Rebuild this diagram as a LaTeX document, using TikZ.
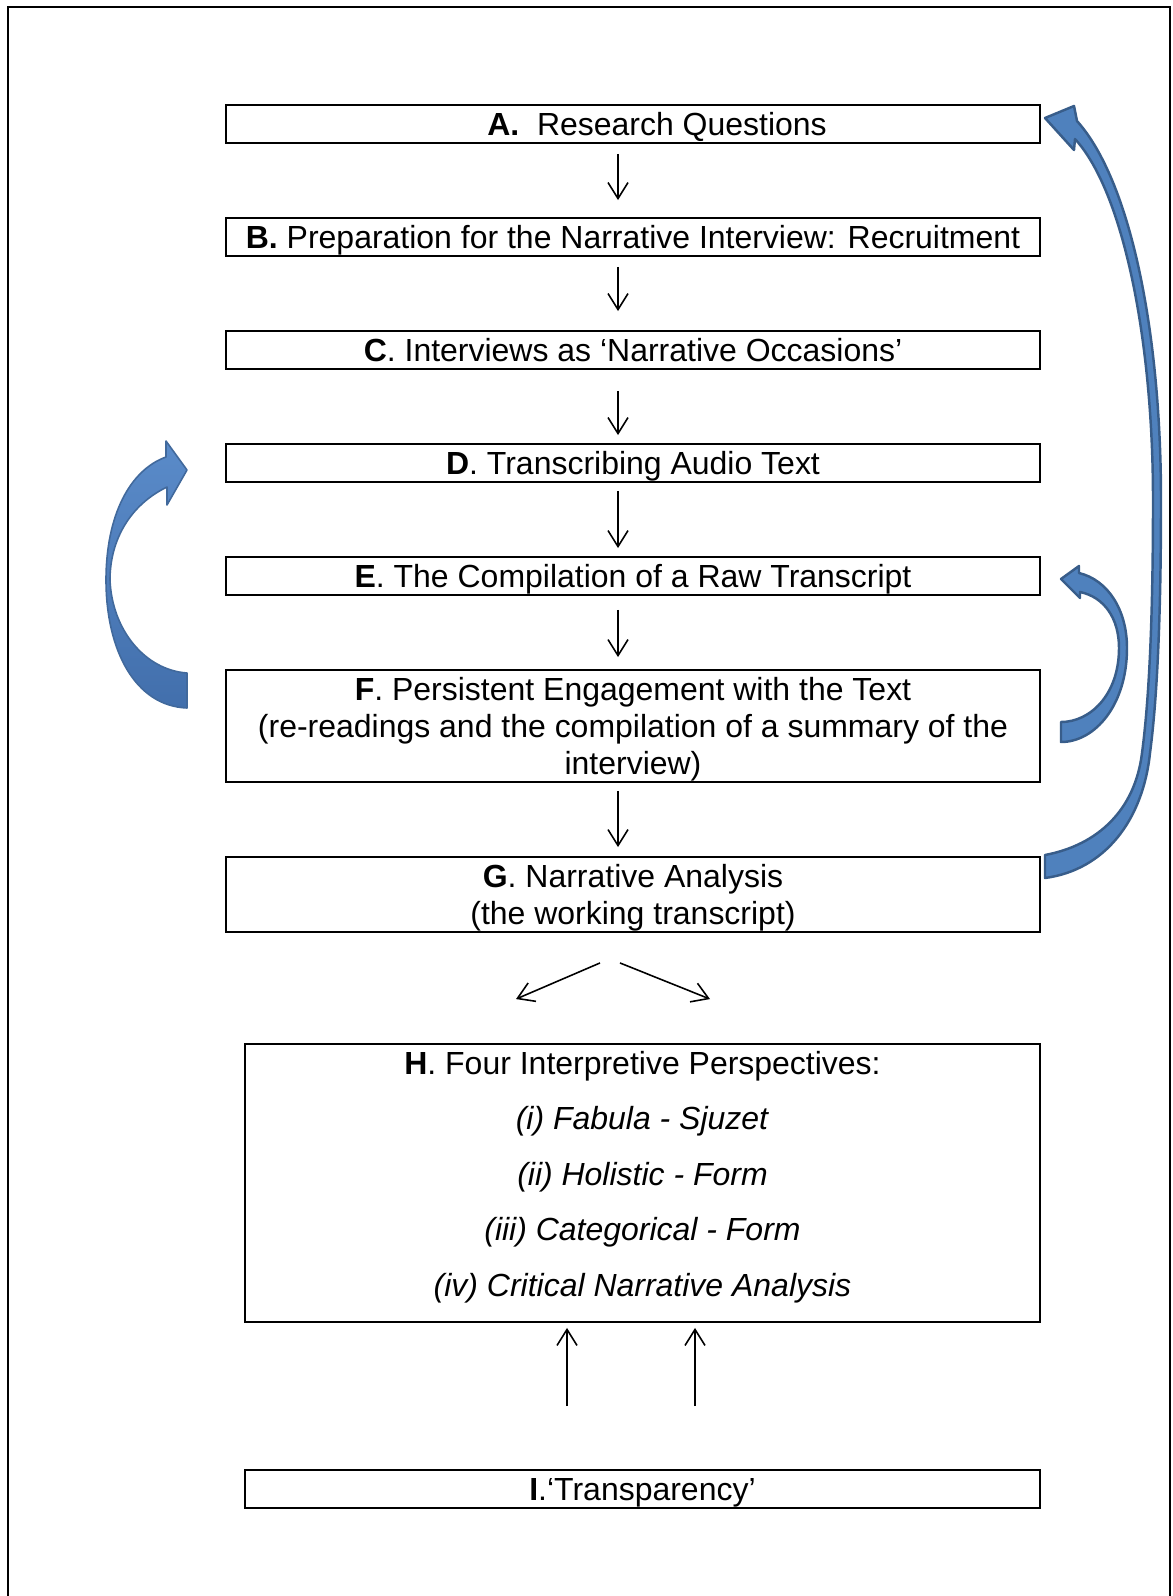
\documentclass[tikz,border=0pt]{standalone}
\usepackage{fontspec}
\setmainfont{Liberation Sans}
\usepackage{xcolor}
\usetikzlibrary{arrows.meta,calc}

\definecolor{officeblue}{HTML}{4F81BD}
\definecolor{officeline}{HTML}{385D8A}
\definecolor{officelight}{HTML}{5A8BC9}
\definecolor{officedark}{HTML}{426FAC}
\definecolor{officeedge}{HTML}{41699C}

\tikzset{
  stage/.style={draw, line width=1.1pt, minimum width=16.28cm, minimum height=0.76cm,
    inner sep=0pt, align=center, font=\fontsize{18.2}{20.9}\selectfont},
  stageline/.style={stage, text height=16.6pt, text depth=3.8pt},
  flow/.style={-{Straight Barb[length=0.32cm,width=0.4cm]}, line width=0.9pt},
  backarrow/.style={fill=officeblue, draw=officeline, line width=1.4pt, line join=round},
}

\begin{document}
\begin{tikzpicture}[x=0.02cm,y=-0.02cm]
  \useasboundingbox (0,0) rectangle (1173,1596);
  % page frame, open at the bottom
  \draw[line width=1.1pt] (8,1596) |- (1170,7) -- (1170,1596);

  % stages
  \node[stageline] (A) at (633,124) {\hspace*{1.5em}\textbf{A.}\ \ Research Questions};
  \node[stageline] (B) at (633,237) {\textbf{B.} Preparation for the Narrative Interview: Recruitment};
  \node[stageline] (C) at (633,350) {\textbf{C}. Interviews as ‘Narrative Occasions’};
  \node[stageline] (D) at (633,463) {\textbf{D}. Transcribing Audio Text};
  \node[stageline] (E) at (633,576) {\textbf{E}. The Compilation of a Raw Transcript};
  \node[stage, minimum height=2.24cm, text height=58.5pt] (F) at (633,726)
    {\textbf{F}. Persistent Engagement with the Text\\(re-readings and the compilation of a summary of the\\interview)};
  \node[stage, minimum height=1.5cm, text height=37.6pt] (G) at (633,894.5)
    {\textbf{G}. Narrative Analysis\\(the working transcript)};
  \node[stage, minimum width=15.9cm, minimum height=5.56cm] (H) at (642.5,1183) {};
  \node[align=center, inner sep=0pt, font=\fontsize{18.2}{31.6}\selectfont] (Hlist) at (642.5,1177)
    {\textbf{H}. Four Interpretive Perspectives:\\
     \textit{(i) Fabula - Sjuzet}\\
     \textit{(ii) Holistic - Form}\\
     \textit{(iii) Categorical - Form}\\
     \textit{(iv) Critical Narrative Analysis}};
  \node[stageline, minimum width=15.9cm] (I) at (642.5,1489) {\textbf{I}.‘Transparency’};

  % straight arrows
  \foreach \a/\b/\s/\e in {A/B/10/17, B/C/10/19, C/D/21/8, D/E/8/8, E/F/14/12, F/G/8/9}
    \draw[flow] ($(\a.south)+(-15,\s)$) -- ($(\b.north)+(-15,-\e)$);
  \draw[flow] ($(G.south)+(-33,30)$) -- ($(H.north)+(-126.5,-44)$);
  \draw[flow] ($(G.south)+(-13,30)$) -- ($(H.north)+(67.5,-44)$);
  \draw[flow] ($(I.north)+(-75.5,-63)$) -- ($(H.south)+(-75.5,5)$);
  \draw[flow] ($(I.north)+(52.5,-63)$) -- ($(H.south)+(52.5,5)$);

  % curved block arrows
  \draw[backarrow] (1045,118) -- (1074,106) -- (1077,121)
    .. controls (1130,180) and (1161,330) .. (1161,500)
    .. controls (1161,620) and (1157,700) .. (1150,753)
    .. controls (1143,820) and (1105,870) .. (1045,878) -- (1045,855)
    .. controls (1098,845) and (1135,810) .. (1142,753)
    .. controls (1149,700) and (1153,620) .. (1153,500)
    .. controls (1153,335) and (1122,190) .. (1075,139) -- (1074,150) -- cycle;
  \draw[backarrow] (1061,579) -- (1079,566) -- (1079,573)
    .. controls (1108,580) and (1127,610) .. (1127,648)
    .. controls (1127,705) and (1095,742) .. (1061,742) -- (1061,722)
    .. controls (1090,722) and (1119,695) .. (1119,648)
    .. controls (1119,618) and (1104,597) .. (1080,592) -- (1080,598) -- cycle;
  \draw[draw=officeedge, line width=0.9pt, line join=round, top color=officelight, bottom color=officedark]
    (187,470) -- (167,505) -- (167,487)
    .. controls (130,505) and (110,540) .. (110,580)
    .. controls (112,630) and (145,670) .. (187,673) -- (187,708)
    .. controls (135,706) and (106,650) .. (106,580)
    .. controls (106,515) and (130,470) .. (166,457) -- (166,441) -- cycle;
\end{tikzpicture}
\end{document}
